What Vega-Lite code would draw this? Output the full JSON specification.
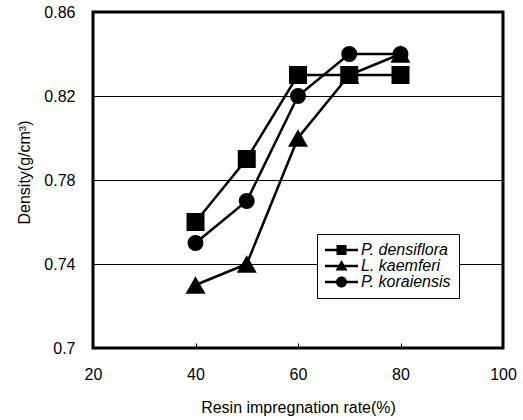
{
  "$schema": "https://vega.github.io/schema/vega-lite/v6.json",
  "width": 410,
  "height": 336,
  "autosize": {"type": "none"},
  "padding": {"left": 93, "top": 12, "right": 20, "bottom": 72},
  "background": "white",
  "config": {
    "font": "Liberation Sans",
    "view": {"stroke": "black", "strokeWidth": 3},
    "axis": {
      "labelColor": "black",
      "titleColor": "black",
      "labelFontSize": 16,
      "titleFontSize": 16,
      "titleFontWeight": "normal",
      "labelFont": "Liberation Sans",
      "titleFont": "Liberation Sans"
    }
  },
  "data": {
    "values": [
      {"series": "L. kaemferi", "rate": 40, "density": 0.73},
      {"series": "L. kaemferi", "rate": 50, "density": 0.74},
      {"series": "L. kaemferi", "rate": 60, "density": 0.80},
      {"series": "L. kaemferi", "rate": 70, "density": 0.83},
      {"series": "L. kaemferi", "rate": 80, "density": 0.84},
      {"series": "P. densiflora", "rate": 40, "density": 0.76},
      {"series": "P. densiflora", "rate": 50, "density": 0.79},
      {"series": "P. densiflora", "rate": 60, "density": 0.83},
      {"series": "P. densiflora", "rate": 70, "density": 0.83},
      {"series": "P. densiflora", "rate": 80, "density": 0.83},
      {"series": "P. koraiensis", "rate": 40, "density": 0.75},
      {"series": "P. koraiensis", "rate": 50, "density": 0.77},
      {"series": "P. koraiensis", "rate": 60, "density": 0.82},
      {"series": "P. koraiensis", "rate": 70, "density": 0.84},
      {"series": "P. koraiensis", "rate": 80, "density": 0.84}
    ]
  },
  "encoding": {
    "x": {
      "field": "rate",
      "type": "quantitative",
      "scale": {"domain": [20, 100], "nice": false},
      "axis": {
        "title": "Resin impregnation rate(%)",
        "values": [20, 40, 60, 80, 100],
        "grid": false,
        "domain": false,
        "ticks": true,
        "tickSize": -5,
        "tickColor": "black",
        "tickWidth": 1,
        "labelPadding": 23,
        "titlePadding": 17,
        "labelFlush": false
      }
    },
    "y": {
      "field": "density",
      "type": "quantitative",
      "scale": {"domain": [0.7, 0.86], "nice": false, "zero": false},
      "axis": {
        "title": "Density(g/cm³)",
        "values": [0.7, 0.74, 0.78, 0.82, 0.86],
        "format": ".2~f",
        "grid": true,
        "gridColor": "black",
        "gridWidth": 1,
        "domain": false,
        "ticks": false,
        "labelPadding": 18,
        "titlePadding": 11,
        "titleY": 160
      }
    }
  },
  "layer": [
    {
      "mark": {"type": "line", "color": "black", "strokeWidth": 2.5},
      "encoding": {"detail": {"field": "series"}}
    },
    {
      "transform": [{"filter": "datum.series === 'L. kaemferi'"}],
      "mark": {"type": "point", "shape": "triangle-up", "filled": true, "color": "black", "opacity": 1, "size": 400}
    },
    {
      "transform": [{"filter": "datum.series === 'P. densiflora'"}],
      "mark": {"type": "point", "shape": "square", "filled": true, "color": "black", "opacity": 1, "size": 324}
    },
    {
      "transform": [{"filter": "datum.series === 'P. koraiensis'"}],
      "mark": {"type": "point", "shape": "circle", "filled": true, "color": "black", "opacity": 1, "size": 254}
    },
    {
      "description": "Legend key: a line-through-marker glyph per series; the points themselves stay hidden.",
      "mark": {"type": "point", "filled": true, "color": "black", "opacity": 0},
      "encoding": {
        "shape": {
          "field": "series",
          "type": "nominal",
          "scale": {
            "domain": ["P. densiflora", "L. kaemferi", "P. koraiensis"],
            "range": [
              "M-1.6,-0.25H5V0.25H-1.6ZM0.7,-1H2.7V1H0.7Z",
              "M-1.6,-0.25H5V0.25H-1.6ZM1.7,-1.2L2.9,0.9H0.5Z",
              "M-1.6,-0.25H5V0.25H-1.6ZM0.6,0A1.1,1.1 0 1,1 2.8,0A1.1,1.1 0 1,1 0.6,0Z"
            ]
          },
          "legend": {
            "title": null,
            "orient": "none",
            "legendX": 224,
            "legendY": 222,
            "fillColor": "white",
            "strokeColor": "black",
            "padding": 8,
            "symbolSize": 100,
            "symbolOpacity": 1,
            "symbolFillColor": "black",
            "symbolStrokeWidth": 0,
            "labelFontSize": 16,
            "labelFontStyle": "italic",
            "labelColor": "black",
            "labelOffset": 20,
            "rowPadding": 0,
            "labelLimit": 300
          }
        }
      }
    }
  ]
}
